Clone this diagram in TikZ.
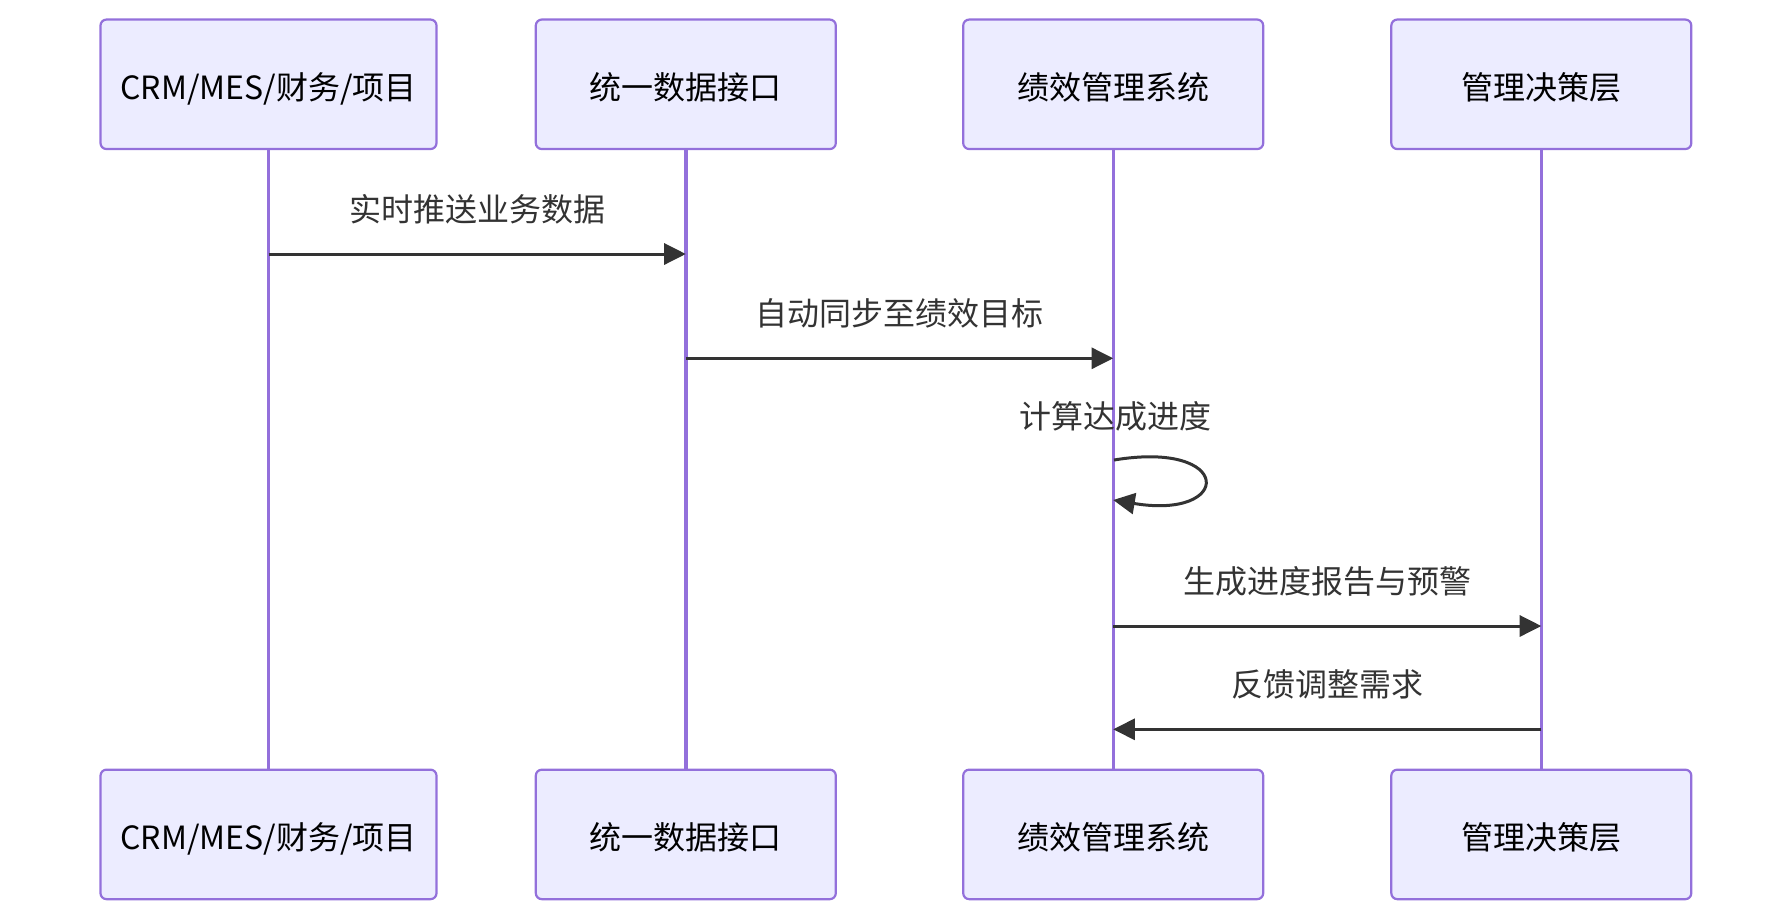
\documentclass[tikz,border=0pt]{standalone}
\usepackage{fontspec}
\setmainfont{Noto Sans CJK SC}
\usetikzlibrary{arrows.meta}

\definecolor{actorfill}{HTML}{ECECFF}
\definecolor{actorline}{HTML}{9370DB}
\definecolor{msgline}{HTML}{333333}

\begin{document}
\begin{tikzpicture}[x=0.5pt, y=-0.5pt,
    actor/.style={draw=actorline, fill=actorfill, line width=1.1pt, rounded corners=3pt,
        minimum width=150pt, minimum height=64.75pt, inner sep=0pt,
        text height=15pt, text depth=0pt, font=\fontsize{16}{19}\selectfont},
    life/.style={draw=actorline, line width=1.7pt},
    msg/.style={draw=msgline, line width=1.5pt, -{Triangle[length=10.8pt, width=10.5pt]}},
    msgtext/.style={text=msgline, font=\fontsize{16}{19}\selectfont}]
    \useasboundingbox (0,0) rectangle (1792,922);

    \node[actor, minimum width=168pt] (crmT) at (268.5,84.3) {CRM/MES/财务/项目};
    \node[actor] (apiT) at (685.8,84.3) {统一数据接口};
    \node[actor] (kpiT) at (1113.2,84.3) {绩效管理系统};
    \node[actor] (mgmtT) at (1541.3,84.3) {管理决策层};

    \node[actor, minimum width=168pt] (crmB) at (268.5,834.4) {CRM/MES/财务/项目};
    \node[actor] (apiB) at (685.8,834.4) {统一数据接口};
    \node[actor] (kpiB) at (1113.2,834.4) {绩效管理系统};
    \node[actor] (mgmtB) at (1541.3,834.4) {管理决策层};

    \draw[life] (crmT) -- (crmB);
    \draw[life] (apiT) -- (apiB);
    \draw[life] (kpiT) -- (kpiB);
    \draw[life] (mgmtT) -- (mgmtB);

    \coordinate (crm1) at (268.5,254);
    \coordinate (api1) at (685.8,254);
    \coordinate (api2) at (685.8,358.3);
    \coordinate (kpi2) at (1113.2,358.3);
    \coordinate (kpi3) at (1114,460);
    \coordinate (kpi4) at (1113.2,500);
    \coordinate (kpi5) at (1113.2,626);
    \coordinate (mgmt5) at (1541.3,626);
    \coordinate (kpi6) at (1113.2,729.3);
    \coordinate (mgmt6) at (1541.3,729.3);

    \draw[msg] (crm1) -- (api1) node[midway, msgtext, yshift=22.4pt] (lbl1) {实时推送业务数据};
    \draw[msg] (api2) -- (kpi2) node[midway, msgtext, yshift=22.4pt] (lbl2) {自动同步至绩效目标};
    \node[msgtext] (lbl3) at (1115,416) {计算达成进度};
    \draw[msg] (kpi3) .. controls +(120,-20) and +(120,20) .. (kpi4);
    \draw[msg] (kpi5) -- (mgmt5) node[midway, msgtext, yshift=22.4pt] (lbl4) {生成进度报告与预警};
    \draw[msg] (mgmt6) -- (kpi6) node[midway, msgtext, yshift=22.4pt] (lbl5) {反馈调整需求};
\end{tikzpicture}
\end{document}
